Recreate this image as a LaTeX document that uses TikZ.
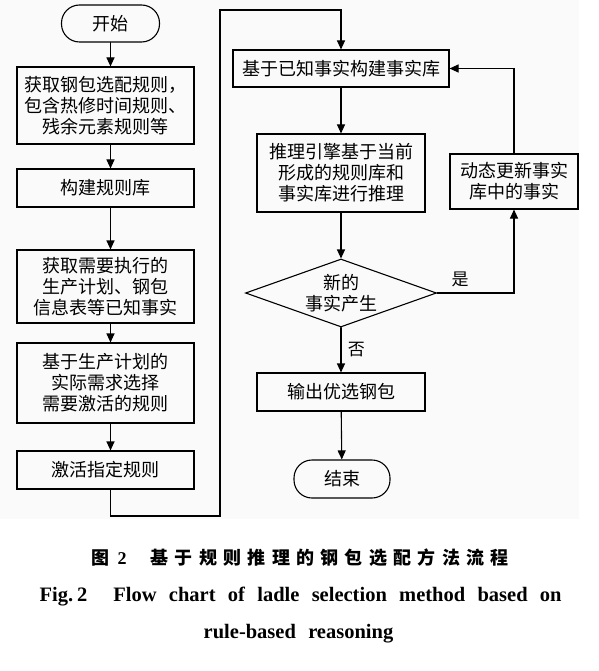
\documentclass[tikz,border=0pt]{standalone}
\usepackage{fontspec}
\setmainfont{Liberation Serif}
\newfontfamily\cjk{Noto Sans CJK SC}
\newfontfamily\cjkcap{Noto Sans CJK SC}[LetterSpace=35]
\usetikzlibrary{arrows.meta, shapes.geometric}

\begin{document}
\begin{tikzpicture}[x=1pt, y=-1pt, line cap=round,
  every node/.style={font=\cjk\fontsize{18}{21}\selectfont},
  box/.style={draw, line width=1.1pt, align=center, inner sep=0pt},
  term/.style={box, rounded corners=18pt},
  decision/.style={draw, diamond, aspect=2.8, line width=1.1pt, align=center,
    inner sep=0pt, minimum width=191pt, minimum height=68pt},
  arr/.style={line width=1.1pt, -{Triangle[length=9pt, width=8pt]}}]
% Background
\fill[gray!4] (0,0) rectangle (579,519);
\useasboundingbox (0,0) rectangle (598,671);
% Left column
\node[term, minimum width=98pt, minimum height=37pt] (start) at (110.5,23.5) {开始};
\node[box, minimum width=177pt, minimum height=77pt] (rules) at (105.5,105.5)
  {获取钢包选配规则，\\包含热修时间规则、\\残余元素规则等};
\node[box, minimum width=177pt, minimum height=38pt] (rbase) at (105.5,188) {构建规则库};
\node[box, minimum width=177pt, minimum height=73pt] (facts) at (105.5,286.5)
  {获取需要执行的\\生产计划、钢包\\信息表等已知事实};
\node[box, minimum width=177pt, minimum height=80pt] (pick) at (105.5,383)
  {基于生产计划的\\实际需求选择\\需要激活的规则};
\node[box, minimum width=177pt, minimum height=38pt] (act) at (105.5,470) {激活指定规则};
% Right column
\node[box, minimum width=216pt, minimum height=37pt] (fbase) at (341,68.5) {基于已知事实构建事实库};
\node[box, minimum width=168pt, minimum height=78pt] (infer) at (341,173)
  {推理引擎基于当前\\形成的规则库和\\事实库进行推理};
\node[decision] (newq) at (341,293) {新的\\事实产生};
\node[box, minimum width=168pt, minimum height=38pt] (out) at (341,392) {输出优选钢包};
\node[term, minimum width=96pt, minimum height=38pt] (stop) at (342,479) {结束};
\node[box, minimum width=128pt, minimum height=55pt] (upd) at (514,181.5)
  {动态更新事实\\库中的事实};
% Loop corners
\coordinate (loopA) at (220,516);
\coordinate (loopB) at (220,10);
% Arrows, left column
\draw[arr] (start) -- (start |- rules.north);
\draw[arr] (rules.south -| start) -- (start |- rbase.north);
\draw[arr] (rbase.south -| start) -- (start |- facts.north);
\draw[arr] (facts.south -| start) -- (start |- pick.north);
\draw[arr] (pick.south -| start) -- (start |- act.north);
\draw[arr] (act.south -| start) |- (loopA) -- (loopB) -| (fbase.north);
% Arrows, right column
\draw[arr] (fbase) -- (infer);
\draw[arr] (infer) -- (newq);
\draw[arr] (newq) -- node[right=3pt, font=\cjk\fontsize{17}{17}\selectfont] {否} (out);
\draw[arr] (out) -- (stop);
\draw[arr] (newq.east) -| node[pos=0.15, above=2pt, font=\cjk\fontsize{17}{17}\selectfont] {是} (upd.south);
\draw[arr] (upd.north) |- (fbase.east);
% Caption
\node[anchor=west, font=\bfseries\fontsize{18}{18}\selectfont] (capcn) at (88,558)
  {{\cjkcap 图}\hspace{8pt}2\hspace{24pt}{\cjkcap 基于规则推理的钢包选配方法流程}};
\node[anchor=west, font=\bfseries\fontsize{20.5}{20.5}\selectfont] (capen) at (36,597)
  {\spaceskip=12.3pt\relax Fig.\hspace{4pt}2\hspace{26pt}Flow chart of ladle selection method based on};
\node[font=\bfseries\fontsize{20.5}{20.5}\selectfont] (capen2) at (298.5,634)
  {\spaceskip=12.3pt\relax rule-based reasoning};
\end{tikzpicture}
\end{document}
